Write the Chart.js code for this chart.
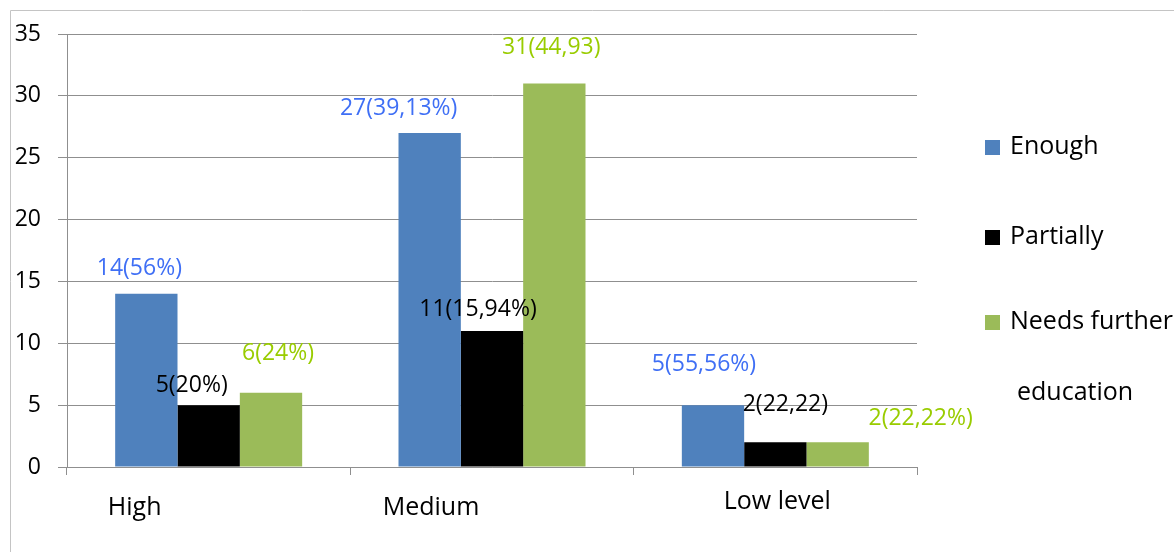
<!DOCTYPE html>
<html>
<head>
<meta charset="utf-8">
<script src="https://cdn.jsdelivr.net/npm/chart.js@4"></script>
<style>
  html, body { margin: 0; padding: 0; background: #fff; }
  #wrap { position: relative; width: 1174px; height: 552px; }
</style>
</head>
<body>
<div id="wrap"><canvas id="chart" width="1174" height="552"></canvas></div>
<script>
// data
const categories = ['High', 'Medium', 'Low level'];
const seriesNames = ['Enough', 'Partially', 'Needs further education'];
const enough = [14, 27, 5];
const partially = [5, 11, 2];
const needsFurther = [6, 31, 2];
const enoughLabels = ['14(56%)', '27(39,13%)', '5(55,56%)'];
const partiallyLabels = ['5(20%)', '11(15,94%)', '2(22,22)'];
const needsFurtherLabels = ['6(24%)', '31(44,93)', '2(22,22%)'];
const yTicks = [0, 5, 10, 15, 20, 25, 30, 35];

const FONT = '"Open Sans", "Noto Sans", sans-serif';
const barColors = ['#4F81BD', '#000000', '#9BBB59'];
const textColors = ['#3F6FF5', '#000000', '#99CC00'];
const gridColor = '#8f8f8f';

// hand placed labels in the original: offset from bar top centre
const labelOffsets = [
    [[-7, -25], [-31, -25], [-9, -41]],
    [[-17, -20], [-14, -21], [10, -38]],
    [[7, -39], [-3, -36], [83, -24]]
];
const catLabelOffsets = [[-74, 41], [-61, 41], [2, 35]];

const valueLabels = {
    id: 'valueLabels',
    afterDatasetsDraw(chart) {
        const ctx = chart.ctx;
        ctx.save();
        ctx.font = '23px ' + FONT;
        ctx.textAlign = 'center';
        ctx.textBaseline = 'middle';
        chart.data.datasets.forEach((ds, d) => {
            chart.getDatasetMeta(d).data.forEach((bar, i) => {
                ctx.fillStyle = textColors[d];
                ctx.fillText(ds.valueText[i], bar.x + labelOffsets[d][i][0], bar.y + labelOffsets[d][i][1]);
            });
        });
        ctx.restore();
    }
};

const extras = {
    id: 'extras',
    afterDraw(chart) {
        const ctx = chart.ctx;
        const xs = chart.scales.x;
        const bottom = chart.chartArea.bottom;
        ctx.save();
        // outer frame
        ctx.strokeStyle = '#c4c4c4';
        ctx.lineWidth = 1;
        ctx.beginPath();
        ctx.moveTo(10.5, 552);
        ctx.lineTo(10.5, 10.5);
        ctx.lineTo(1174, 10.5);
        ctx.stroke();
        // category labels
        ctx.font = '25px ' + FONT;
        ctx.fillStyle = '#000';
        ctx.textAlign = 'center';
        ctx.textBaseline = 'middle';
        categories.forEach((c, i) => {
            ctx.fillText(c, xs.getPixelForValue(i) + catLabelOffsets[i][0], bottom + catLabelOffsets[i][1]);
        });
        // legend
        const lx = 985, ly = [147, 237, 322];
        ctx.textAlign = 'left';
        chart.data.datasets.forEach((ds, d) => {
            ctx.fillStyle = barColors[d];
            ctx.fillRect(lx, ly[d] - 7, 15, 15);
            ctx.fillStyle = '#000';
            const words = ds.label.split(' ');
            if (words.length > 2) {
                ctx.fillText(words.slice(0, 2).join(' '), lx + 25, ly[d]);
                ctx.fillText(words.slice(2).join(' '), lx + 32, ly[d] + 71);
            } else {
                ctx.fillText(ds.label, lx + 25, ly[d]);
            }
        });
        ctx.restore();
    }
};

new Chart(document.getElementById('chart'), {
    type: 'bar',
    data: {
        labels: categories,
        datasets: [
            { label: seriesNames[0], data: enough, valueText: enoughLabels, backgroundColor: barColors[0] },
            { label: seriesNames[1], data: partially, valueText: partiallyLabels, backgroundColor: barColors[1] },
            { label: seriesNames[2], data: needsFurther, valueText: needsFurtherLabels, backgroundColor: barColors[2] }
        ]
    },
    options: {
        responsive: false,
        animation: false,
        layout: { padding: { left: 0, top: 34, right: 257, bottom: 0 } },
        datasets: { bar: { categoryPercentage: 0.66, barPercentage: 1.0 } },
        plugins: { legend: { display: false }, tooltip: { enabled: false } },
        scales: {
            x: {
                grid: { display: true, drawOnChartArea: false, drawTicks: true, tickLength: 8, color: gridColor, offset: true },
                border: { display: true, color: gridColor },
                ticks: { display: false },
                afterFit(scale) { scale.height = 85; }
            },
            y: {
                min: 0,
                max: 35,
                afterBuildTicks(scale) { scale.ticks = yTicks.map(v => ({ value: v })); },
                grid: { color: gridColor, tickLength: 9, drawTicks: true },
                border: { display: true, color: gridColor },
                ticks: { color: '#000', padding: 17, font: { family: FONT, size: 23 } },
                afterFit(scale) { scale.width = 67; }
            }
        }
    },
    plugins: [valueLabels, extras]
});
</script>
</body>
</html>
